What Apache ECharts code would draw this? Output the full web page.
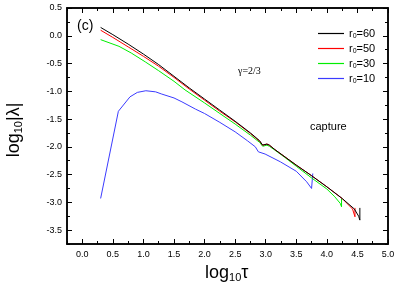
<!DOCTYPE html>
<html><head><meta charset="utf-8">
<script src="https://cdn.jsdelivr.net/npm/echarts@6/dist/echarts.min.js"></script>
<style>html,body{margin:0;padding:0;background:#fff}#c{width:399px;height:295px}</style>
</head><body><div id="c"></div>
<script>
const xMajor = [0,0.5,1,1.5,2,2.5,3,3.5,4,4.5,5];
const xMinor = [-0.25,0.25,0.75,1.25,1.75,2.25,2.75,3.25,3.75,4.25,4.75];
const yMajor = [0.5,0,-0.5,-1,-1.5,-2,-2.5,-3,-3.5];
const yMinor = [0.25,-0.25,-0.75,-1.25,-1.75,-2.25,-2.75,-3.25,-3.75];
const seriesNames = ['60','50','30','10'];
const r60 = [[0.3,0.15],[0.5,0.02],[0.75,-0.15],[1.0,-0.33],[1.25,-0.52],[1.5,-0.73],[1.75,-0.94],[2.0,-1.14],[2.25,-1.34],[2.5,-1.54],[2.75,-1.75],[2.9,-1.89],[2.95,-1.97],[2.98,-1.98],[3.02,-1.95],[3.06,-1.97],[3.15,-2.05],[3.3,-2.17],[3.5,-2.33],[3.75,-2.52],[4.0,-2.72],[4.25,-2.93],[4.45,-3.12],[4.52,-3.25],[4.54,-3.32],[4.54,-3.1]];
const r50 = [[0.3,0.1],[0.5,-0.03],[0.75,-0.2],[1.0,-0.37],[1.25,-0.55],[1.5,-0.75],[1.75,-0.96],[2.0,-1.16],[2.25,-1.36],[2.5,-1.55],[2.75,-1.76],[2.9,-1.9],[2.95,-1.97],[2.98,-1.98],[3.02,-1.95],[3.06,-1.97],[3.15,-2.05],[3.3,-2.17],[3.5,-2.33],[3.75,-2.52],[4.0,-2.72],[4.25,-2.93],[4.42,-3.12],[4.46,-3.26],[4.46,-3.1]];
const r30 = [[0.3,-0.07],[0.6,-0.19],[0.8,-0.31],[1.03,-0.47],[1.25,-0.63],[1.5,-0.82],[1.68,-0.975],[2.0,-1.21],[2.25,-1.4],[2.5,-1.59],[2.75,-1.79],[2.9,-1.92],[2.95,-1.99],[2.98,-2.0],[3.02,-1.97],[3.06,-1.99],[3.15,-2.06],[3.3,-2.18],[3.5,-2.35],[3.75,-2.56],[4.0,-2.76],[4.13,-2.9],[4.22,-3.02],[4.24,-3.08],[4.24,-2.93]];
const r10 = [[0.3,-2.93],[0.59,-1.36],[0.78,-1.1],[0.9,-1.02],[1.04,-0.99],[1.2,-1.01],[1.3,-1.05],[1.5,-1.12],[1.63,-1.19],[1.85,-1.32],[2.0,-1.4],[2.25,-1.56],[2.5,-1.73],[2.7,-1.89],[2.83,-2.0],[2.88,-2.09],[2.99,-2.13],[3.24,-2.27],[3.5,-2.44],[3.67,-2.63],[3.75,-2.75],[3.77,-2.74],[3.77,-2.48]];
const colors = ['#000000','#ff0000','#00ee00','#3b3bff'];
const FONT = 'Liberation Sans, Arial, sans-serif';

function xAx(pos, vals, len, labels){
  return {type:'value', min:-0.25, max:5, position:pos,
    axisLine:{show:true, onZero:false, lineStyle:{color:'#000', width:1.5}},
    axisTick:{show:true, inside:true, length:len, customValues:vals, lineStyle:{color:'#000', width:1}},
    axisLabel:{show:labels, customValues:vals, formatter:v=>v.toFixed(1), fontSize:9, fontFamily:FONT, color:'#000', margin:6},
    splitLine:{show:false}};
}
function yAx(pos, vals, len, labels){
  return {type:'value', min:-3.75, max:0.5, position:pos,
    axisLine:{show:true, onZero:false, lineStyle:{color:'#000', width:1.5}},
    axisTick:{show:true, inside:true, length:len, customValues:vals, lineStyle:{color:'#000', width:1}},
    axisLabel:{show:labels, customValues:vals, formatter:v=>v.toFixed(1), fontSize:9, fontFamily:FONT, color:'#000', margin:5},
    splitLine:{show:false}};
}
const data = [r60,r50,r30,r10];
const chart = echarts.init(document.getElementById('c'), null, {renderer:'canvas'});
chart.setOption({
  animation:false,
  grid:{left:67, right:11, top:8, bottom:51, containLabel:false},
  xAxis:[xAx('bottom',xMajor,5,true), xAx('bottom',xMinor,3,false), xAx('top',xMajor,5,false), xAx('top',xMinor,3,false)],
  yAxis:[yAx('left',yMajor,5,true), yAx('left',yMinor,3,false), yAx('right',yMajor,5,false), yAx('right',yMinor,3,false)],
  legend:{left:313, top:23, orient:'vertical', icon:'rect', itemWidth:26, itemHeight:1.2, itemGap:3,
    data: seriesNames.map(n=>'r'+n),
    formatter: n => 'r{s|0}=' + n.slice(1),
    textStyle:{fontSize:11, fontFamily:FONT, color:'#000', rich:{s:{fontSize:7, verticalAlign:'bottom', padding:[6,0,0,0], fontFamily:FONT}}}},
  series: data.map((d,i)=>({name:'r'+seriesNames[i], type:'line', data:d, symbol:'none', showSymbol:false,
    lineStyle:{color:colors[i], width:1}, itemStyle:{color:colors[i]}, z:10-i})),
  graphic:[
    {type:'text', left:77, top:19, style:{text:'(c)', font:'14px '+FONT, fill:'#000'}},
    {type:'text', left:238, top:66, style:{text:'γ=2/3', font:'10px Liberation Serif, Times New Roman, serif', fill:'#000'}},
    {type:'text', left:310, top:121, style:{text:'capture', font:'11px '+FONT, fill:'#000'}},
    {type:'text', left:205, top:264, style:{rich:{a:{fontSize:18, fontFamily:FONT}, s:{fontSize:11, fontFamily:FONT, padding:[10,0,0,0]}}, text:'{a|log}{s|10}{a|τ}', fill:'#000'}},
    {type:'text', x:14, y:130, rotation:Math.PI/2, style:{rich:{a:{fontSize:18, fontFamily:FONT}, s:{fontSize:11, fontFamily:FONT, padding:[10,0,0,0]}}, text:'{a|log}{s|10}{a||λ|}', fill:'#000', align:'center', verticalAlign:'middle'}}
  ]
});
</script></body></html>
